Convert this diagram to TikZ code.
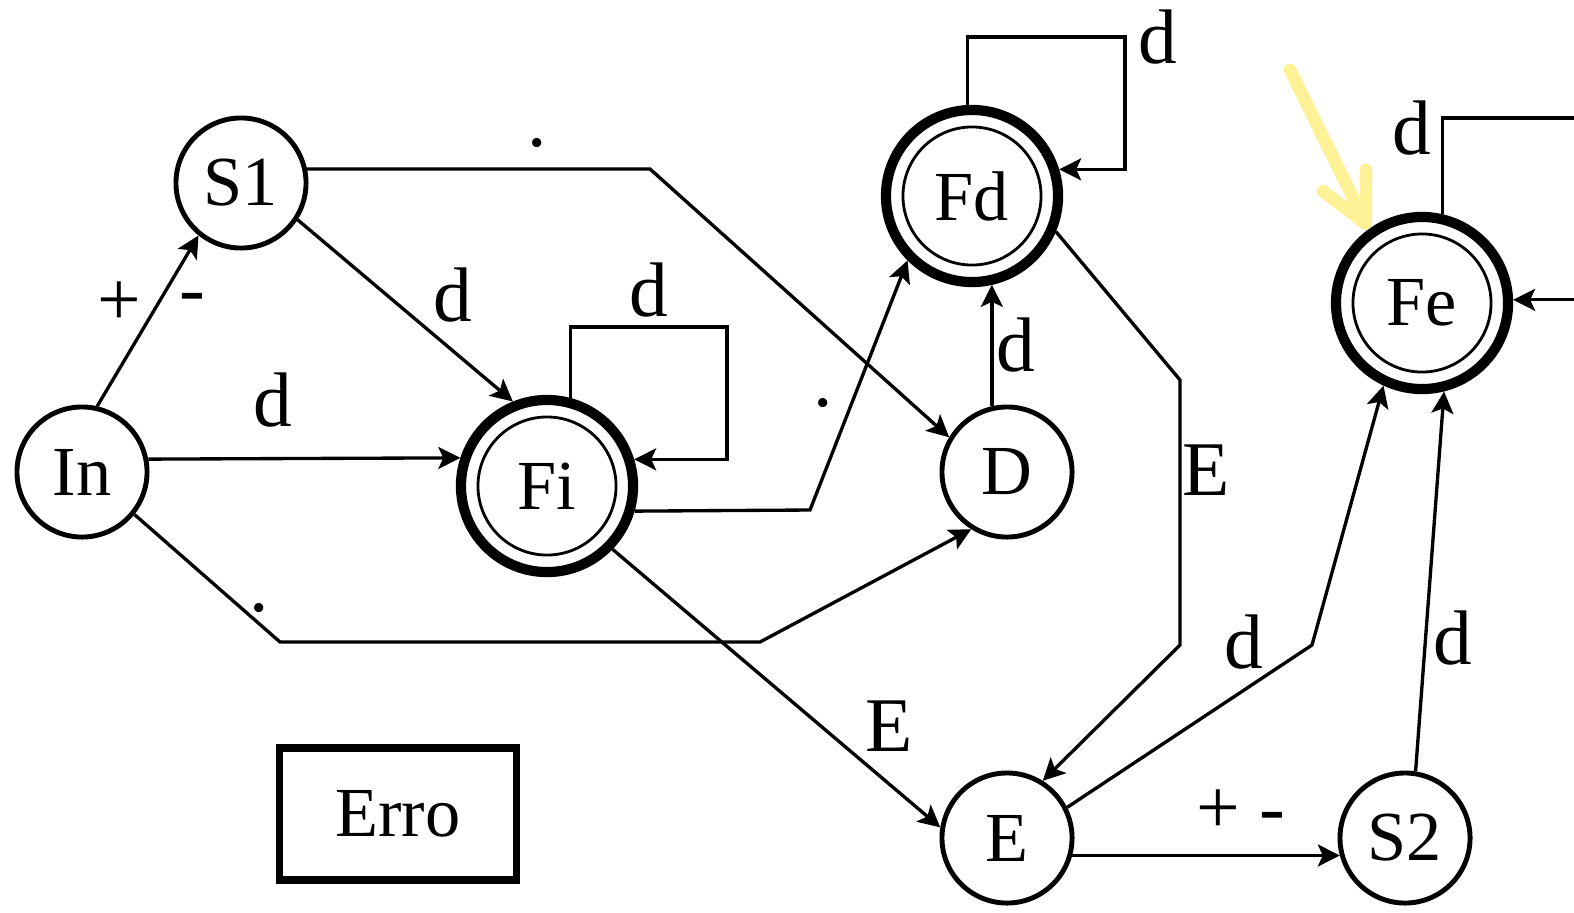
\documentclass[tikz,border=0pt]{standalone}
\usepackage{fontspec}
\setmainfont{Liberation Serif}
\usetikzlibrary{arrows.meta}
\definecolor{hintyellow}{RGB}{255,242,150}

\begin{document}
\begin{tikzpicture}[x=0.01cm,y=-0.01cm,
      st/.style={draw,circle,line width=1.4pt,minimum size=1.3cm,inner sep=0pt,
                 font=\fontsize{20}{24}\selectfont},
      acc/.style={st,line width=2.9pt,minimum size=1.72cm,
                 path picture={\draw[line width=0.8pt] (path picture bounding box.center) circle (0.69cm);}},
      tr/.style={-{Stealth[length=2.2mm,width=2.2mm,inset=0.5mm]},line width=0.95pt},
      lb/.style={inner sep=0pt,font=\fontsize{22}{26}\selectfont},
      hintarrow/.style={hintyellow,line width=3.6pt,line cap=round,line join=round,
                 -{Straight Barb[length=4.8mm,width=4.8mm,round]}}]
    \useasboundingbox (0,0) rectangle (1574,912);
    % states
    \node[st]  (In) at (82,472)   {In};
    \node[st]  (S1) at (241,183)  {S1};
    \node[acc] (Fi) at (547,486)  {Fi};
    \node[acc] (Fd) at (972,196)  {Fd};
    \node[st]  (D)  at (1007,472) {D};
    \node[st]  (E)  at (1007,838) {E};
    \node[st]  (S2) at (1405,838) {S2};
    \node[acc] (Fe) at (1422,303) {Fe};
    \node[draw,line width=2.1pt,minimum width=2.37cm,minimum height=1.32cm,
          font=\fontsize{20}{24}\selectfont] (Erro) at (398,814) {Erro};
    % transitions
    \draw[tr] (In.77) -- (S1.231)
      node[lb,pos=0.6,left=0.15cm] {+} node[lb,pos=0.6,right=0.2cm] {-};
    \draw[tr] (In.11) -- node[lb,pos=0.4,above=0.3cm] {d} (Fi.162);
    \draw[tr] (S1.-33) -- node[lb,pos=0.6,above right=0.05cm] {d} (Fi.112);
    \draw[tr] (Fi.75) |- (727,327) node[lb,pos=0.75,above=0.08cm] {d} |- (Fi.17);
    \draw[tr] (S1.12) -- node[lb,pos=0.67,above=0.2cm] {.} (650,169) -- (D.149);
    \draw[tr] (Fi.-16) -- (810,510) -- node[lb,pos=0.43,left=0.17cm] {.} (Fd.225);
    \draw[tr] (In.-39) -- node[lb,pos=0.86,above=0.1cm] {.} (280,642) -- (760,642) -- (D.238);
    \draw[tr] (D.103) -- node[lb,midway,right=0.03cm] {d} (D.103 |- Fd.-77);
    \draw[tr] (Fd.93) |- (1125,37) node[lb,pos=1,right=0.12cm] {d} |- (Fd.17);
    \draw[tr] (Fd.-23) -- (1180,380) -- node[lb,pos=0.34,right=0.01cm] {E} (1180,645) -- (E.58);
    \draw[tr] (Fi.-44) -- node[lb,pos=0.75,above right=0.05cm] {E} (E.171);
    \draw[tr] (E.27) -- node[lb,pos=0.72,above=0.2cm] {d} (1312,645) -- (Fe.245);
    \draw[tr] (S2.81) -- node[lb,pos=0.35,right=0.06cm] {d} (Fe.-76);
    \draw[tr] (E.-15) -- node[lb,pos=0.63,above=0.2cm] {+ -} (E.-15 -| S2.195);
    \draw[tr] (Fe.77) |- (1640,118) node[lb,pos=0.45,left=0.1cm] {d} |- (Fe.2);
    % pointer
    \coordinate (hintstart) at (1290,70);
    \draw[hintarrow] (hintstart) -- (Fe.126);
\end{tikzpicture}
\end{document}
